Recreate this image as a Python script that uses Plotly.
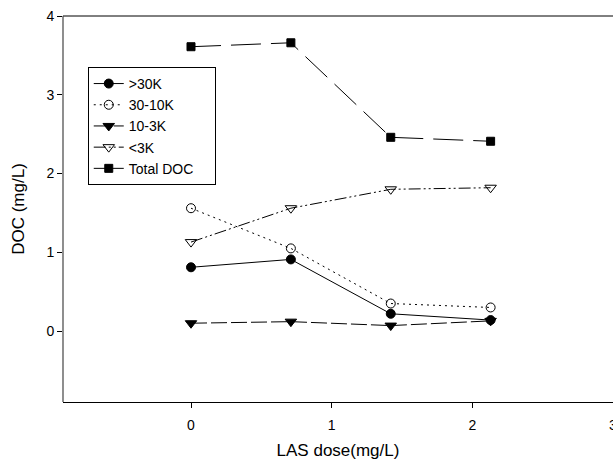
import plotly.graph_objects as go

las_dose = [0, 0.71, 1.42, 2.13]
gt30k = [0.81, 0.91, 0.22, 0.14]
k30_10 = [1.56, 1.05, 0.35, 0.30]
k10_3 = [0.10, 0.12, 0.07, 0.13]
lt3k = [1.13, 1.56, 1.80, 1.82]
total_doc = [3.61, 3.66, 2.46, 2.41]

x_ticks = [0, 1, 2, 3]
y_ticks = [0, 1, 2, 3, 4]

FONT = "Arial, Liberation Sans, sans-serif"

series = [
    (">30K", gt30k, "circle", "solid", 9),
    ("30-10K", k30_10, "circle-open", "2px,4px", 9),
    ("10-3K", k10_3, "triangle-down", "16px,4px", 10),
    ("<3K", lt3k, "triangle-down-open", "12px,3px,2px,3px,2px,3px", 10),
    ("Total DOC\u00a0\u00a0\u00a0\u00a0", total_doc, "square", "30px,10px", 8),
]

fig = go.Figure()
for name, vals, sym, dash, size in series:
    fig.add_trace(go.Scatter(
        x=las_dose, y=vals, name=name, mode="lines+markers",
        line=dict(color="black", width=1, dash=dash),
        marker=dict(symbol=sym, size=size, color="black",
                    line=dict(color="black", width=1)),
    ))

# frame lines: top and left
fig.add_shape(type="line", xref="paper", yref="paper", x0=0, x1=1.02, y0=1, y1=1,
              line=dict(color="black", width=1))
fig.add_shape(type="line", xref="paper", yref="paper", x0=0, x1=0, y0=0, y1=1,
              line=dict(color="#444", width=1.2))

fig.update_layout(
    template="none",
    width=613, height=468,
    margin=dict(l=63, r=0, t=16, b=66, autoexpand=False),
    paper_bgcolor="white", plot_bgcolor="white",
    font=dict(family=FONT, size=14, color="black"),
    showlegend=True,
    legend=dict(
        x=0.045, y=0.868, xanchor="left", yanchor="top",
        bordercolor="black", borderwidth=1, bgcolor="white",
        font=dict(size=14, family=FONT),
    ),
    xaxis=dict(
        range=[-0.91, 3.0], tickvals=x_ticks, ticks="outside", ticklen=5,
        tickcolor="black", automargin=False,
        showline=True, linecolor="black", linewidth=1, mirror=False,
        showgrid=False, zeroline=False, ticklabeloverflow="allow",
        ticklabelstandoff=5,
        title=dict(text="LAS dose(mg/L)", standoff=12, font=dict(size=17)),
        tickfont=dict(size=14),
    ),
    yaxis=dict(
        range=[-0.9, 4], tickvals=y_ticks, ticks="outside", ticklen=5,
        tickcolor="black", automargin=False,
        showline=False, mirror=False,
        showgrid=False, zeroline=False,
        title=dict(text="DOC (mg/L)", standoff=17, font=dict(size=17)),
        tickfont=dict(size=14),
    ),
)

fig.write_html("out.html")
